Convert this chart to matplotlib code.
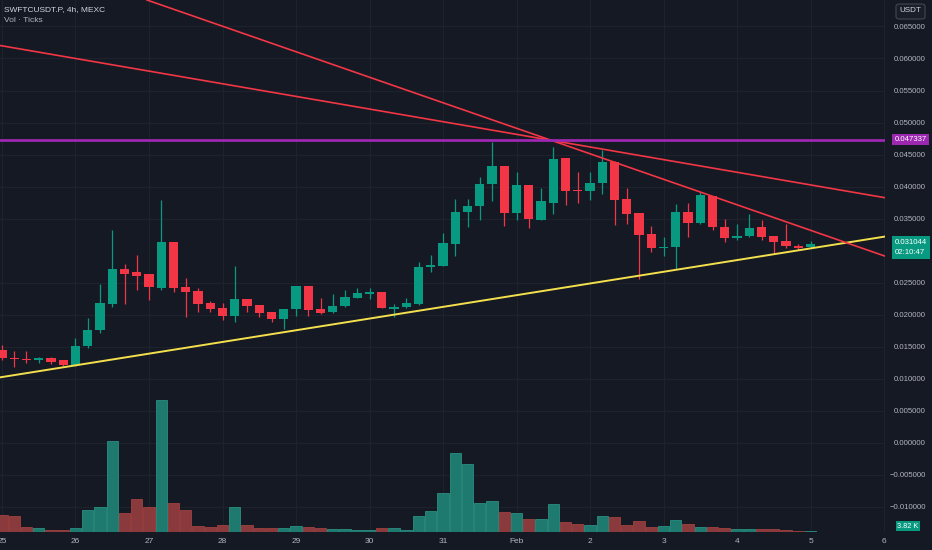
import numpy as np
import matplotlib
matplotlib.use("Agg")
import matplotlib.pyplot as plt
from matplotlib.patches import FancyBboxPatch

plt.rcParams['font.family'] = ['Liberation Sans', 'DejaVu Sans']

# 4h candles, index 0 = Jan 25 00:00
opens = [0.01445, 0.01320, 0.01305, 0.01294, 0.01325, 0.01289, 0.01211, 0.01508, 0.01758, 0.02159,
         0.02711, 0.02669, 0.02628, 0.02409, 0.03128, 0.02434, 0.02367, 0.02175, 0.02097, 0.01981,
         0.02242, 0.02148, 0.02039, 0.01930, 0.02086, 0.02450, 0.02091, 0.02039, 0.02133, 0.02263,
         0.02320, 0.02352, 0.02081, 0.02113, 0.02164, 0.02738, 0.02763, 0.03102, 0.03606, 0.03700,
         0.04034, 0.04320, 0.03591, 0.04023, 0.03477, 0.03747, 0.04450, 0.03945, 0.03930, 0.04050,
         0.04388, 0.03800, 0.03581, 0.03258, 0.03044, 0.03050, 0.03602, 0.03425, 0.03852, 0.03372,
         0.03191, 0.03231, 0.03363, 0.03227, 0.03148, 0.03075, 0.03050]
highs = [0.01523, 0.01434, 0.01434, 0.01336, 0.01336, 0.01297, 0.01628, 0.01941, 0.02477, 0.03320,
         0.02789, 0.02930, 0.02633, 0.03789, 0.03133, 0.02566, 0.02409, 0.02216, 0.02175, 0.02763,
         0.02242, 0.02156, 0.02047, 0.02086, 0.02453, 0.02453, 0.02253, 0.02316, 0.02383, 0.02409,
         0.02409, 0.02359, 0.02164, 0.02253, 0.02825, 0.02930, 0.03269, 0.03800, 0.03800, 0.04144,
         0.04700, 0.04320, 0.04222, 0.04023, 0.03972, 0.04622, 0.04453, 0.04231, 0.04222, 0.04570,
         0.04391, 0.03972, 0.03586, 0.03383, 0.03216, 0.03727, 0.03738, 0.03919, 0.03859, 0.03488,
         0.03409, 0.03570, 0.03477, 0.03234, 0.03414, 0.03097, 0.03153]
lows = [0.01289, 0.01180, 0.01242, 0.01247, 0.01227, 0.01195, 0.01195, 0.01477, 0.01706, 0.02122,
        0.02164, 0.02383, 0.02227, 0.02383, 0.02356, 0.01966, 0.02044, 0.02044, 0.01914, 0.01888,
        0.02044, 0.01966, 0.01888, 0.01769, 0.01977, 0.01977, 0.02008, 0.02028, 0.02125, 0.02258,
        0.02238, 0.02094, 0.01966, 0.02102, 0.02156, 0.02669, 0.02758, 0.02914, 0.03363, 0.03477,
        0.03773, 0.03383, 0.03477, 0.03347, 0.03469, 0.03570, 0.03711, 0.03747, 0.03789, 0.03883,
        0.03398, 0.03414, 0.02550, 0.02981, 0.02919, 0.02711, 0.03216, 0.03414, 0.03320, 0.03128,
        0.03164, 0.03211, 0.03164, 0.02941, 0.03034, 0.03008, 0.03047]
closes = [0.01316, 0.01305, 0.01289, 0.01325, 0.01253, 0.01211, 0.01508, 0.01758, 0.02175, 0.02711,
          0.02633, 0.02602, 0.02425, 0.03128, 0.02409, 0.02356, 0.02164, 0.02086, 0.01981, 0.02238,
          0.02138, 0.02028, 0.01930, 0.02081, 0.02450, 0.02075, 0.02028, 0.02138, 0.02269, 0.02331,
          0.02347, 0.02102, 0.02122, 0.02175, 0.02738, 0.02773, 0.03113, 0.03606, 0.03700, 0.04039,
          0.04320, 0.03591, 0.04023, 0.03488, 0.03773, 0.04430, 0.03930, 0.03925, 0.04059, 0.04388,
          0.03789, 0.03570, 0.03242, 0.03034, 0.03059, 0.03602, 0.03434, 0.03863, 0.03363, 0.03191,
          0.03231, 0.03356, 0.03216, 0.03138, 0.03075, 0.03039, 0.031044]
volumes_k = [92, 86, 28, 20, 11, 11, 22, 121, 138, 502,
             106, 180, 138, 728, 161, 119, 35, 28, 40, 138,
             40, 20, 20, 22, 33, 29, 22, 17, 18, 11,
             11, 22, 22, 11, 88, 116, 215, 436, 376, 160,
             169, 112, 105, 72, 72, 152, 57, 42, 40, 88,
             83, 37, 59, 26, 35, 68, 42, 29, 29, 20,
             15, 18, 15, 15, 11, 7, 3.82]

day_ticks = [0, 6, 12, 18, 24, 30, 36, 42, 48, 54, 60, 66, 72]
day_labels = ['25', '26', '27', '28', '29', '30', '31', 'Feb', '2', '3', '4', '5', '6']
price_ticks = [-0.010, -0.005, 0.000, 0.005, 0.010, 0.015, 0.020, 0.025,
               0.035, 0.040, 0.045, 0.050, 0.055, 0.060, 0.065]

# drawn trend lines: (index, price) anchors
yellow_line = [(0, 0.01023), (66, 0.03033)]
red_steep = [(40, 0.05043), (66, 0.03316)]
red_shallow = [(0, 0.06198), (66, 0.04025)]
level_price = 0.047337
last_price = 0.031044

bg = '#151924'
up, down = '#089981', '#f23645'
vol_up, vol_down = '#1e7a6e', '#8a3a3d'
txt = '#b2b5be'
grid = '#1e222d'

fig = plt.figure(figsize=(9.32, 5.5), dpi=100, facecolor=bg)
ax = fig.add_axes([0, 18 / 550, 885 / 932, 532 / 550])
ax.set_facecolor(bg)
ax.set_xlim(-0.163, 72.08)
ax.set_ylim(-0.01398, 0.06914)

# volume pane overlay, drawn above the price grid
vax = ax.twinx()
vax.set_ylim(0, 2926)
vax.set_yticks([])
vax.patch.set_visible(False)
vax.set_zorder(ax.get_zorder() + 1)

idx = np.arange(len(opens))
o = np.array(opens); c = np.array(closes)
is_up = c >= o

vax.bar(idx, volumes_k, width=0.92, color=np.where(is_up, vol_up, vol_down),
        edgecolor=np.where(is_up, '#2a8f80', '#a0423f'), linewidth=0.6)

# candles
cols = np.where(is_up, up, down)
ax.vlines(idx, lows, highs, colors=cols, linewidth=0.9, zorder=3)
body_h = np.maximum(np.abs(c - o), 0.00016)
ax.bar(idx, body_h, bottom=np.minimum(o, c), width=0.76, color=cols, zorder=4)

# trend lines
ax.axline(*yellow_line, color='#f4e04d', linewidth=1.4, zorder=5)
ax.axline(*red_steep, color='#f23645', linewidth=1.2, zorder=5)
ax.axline(*red_shallow, color='#f23645', linewidth=1.2, zorder=5)
ax.axhline(level_price, color='#9c27b0', linewidth=2, zorder=5)

# grid and axes
ax.set_yticks(price_ticks)
ax.set_yticklabels([f'{p:.6f}'.replace('-', '\u2212') for p in price_ticks])
ax.set_xticks(day_ticks)
ax.set_xticklabels(day_labels)
ax.yaxis.tick_right()
ax.tick_params(axis='y', length=0, pad=29.5, labelsize=5.6, labelcolor=txt)
for lbl in ax.get_yticklabels():
    lbl.set_horizontalalignment('right')
ax.tick_params(axis='x', length=0, pad=4, labelsize=6, labelcolor=txt)
ax.grid(True, color=grid, linewidth=0.8)
ax.set_axisbelow(True)
for sp in list(ax.spines.values()) + list(vax.spines.values()):
    sp.set_visible(False)

span = 0.06914 + 0.01398
# price tags
vax.text(1.011, (level_price + 0.01398) / span, f'{level_price:.6f}', transform=vax.transAxes,
         va='center', ha='left', fontsize=5.6, color='white', clip_on=False, zorder=10,
         bbox=dict(boxstyle='square,pad=0.3', fc='#9c27b0', ec='none'))
vax.text(1.011, (last_price + 0.01398) / span + 0.009, f'{last_price:.6f}\n02:10:47',
         transform=vax.transAxes, va='top', ha='left', fontsize=5.6, color='white',
         linespacing=1.55, clip_on=False, zorder=10,
         bbox=dict(boxstyle='square,pad=0.4', fc=up, ec='none'))
vax.text(1.014, 6 / 532, f'{volumes_k[-1]:.2f} K', transform=vax.transAxes, va='center', ha='left',
         fontsize=5.3, color='white', clip_on=False, zorder=10,
         bbox=dict(boxstyle='square,pad=0.2', fc=up, ec='none'))

# currency box
fig.patches.append(FancyBboxPatch((896 / 932, 531 / 550), 29 / 932, 15 / 550,
                                  boxstyle='round,pad=0,rounding_size=0.004',
                                  transform=fig.transFigure, fc='#1a1e29', ec='#434651', lw=0.8))
fig.text(910.5 / 932, 539 / 550, 'USDT', ha='center', va='center', fontsize=5.8, color='#d1d4dc')

# legend text
fig.text(4 / 932, 1 - 10 / 550, 'SWFTCUSDT.P, 4h, MEXC', ha='left', va='center',
         fontsize=6, color='#d1d4dc')
fig.text(4 / 932, 1 - 21 / 550, 'Vol \u00b7 Ticks', ha='left', va='center',
         fontsize=6, color='#b2b5be')

fig.savefig('out.png', dpi=100, facecolor=bg)
